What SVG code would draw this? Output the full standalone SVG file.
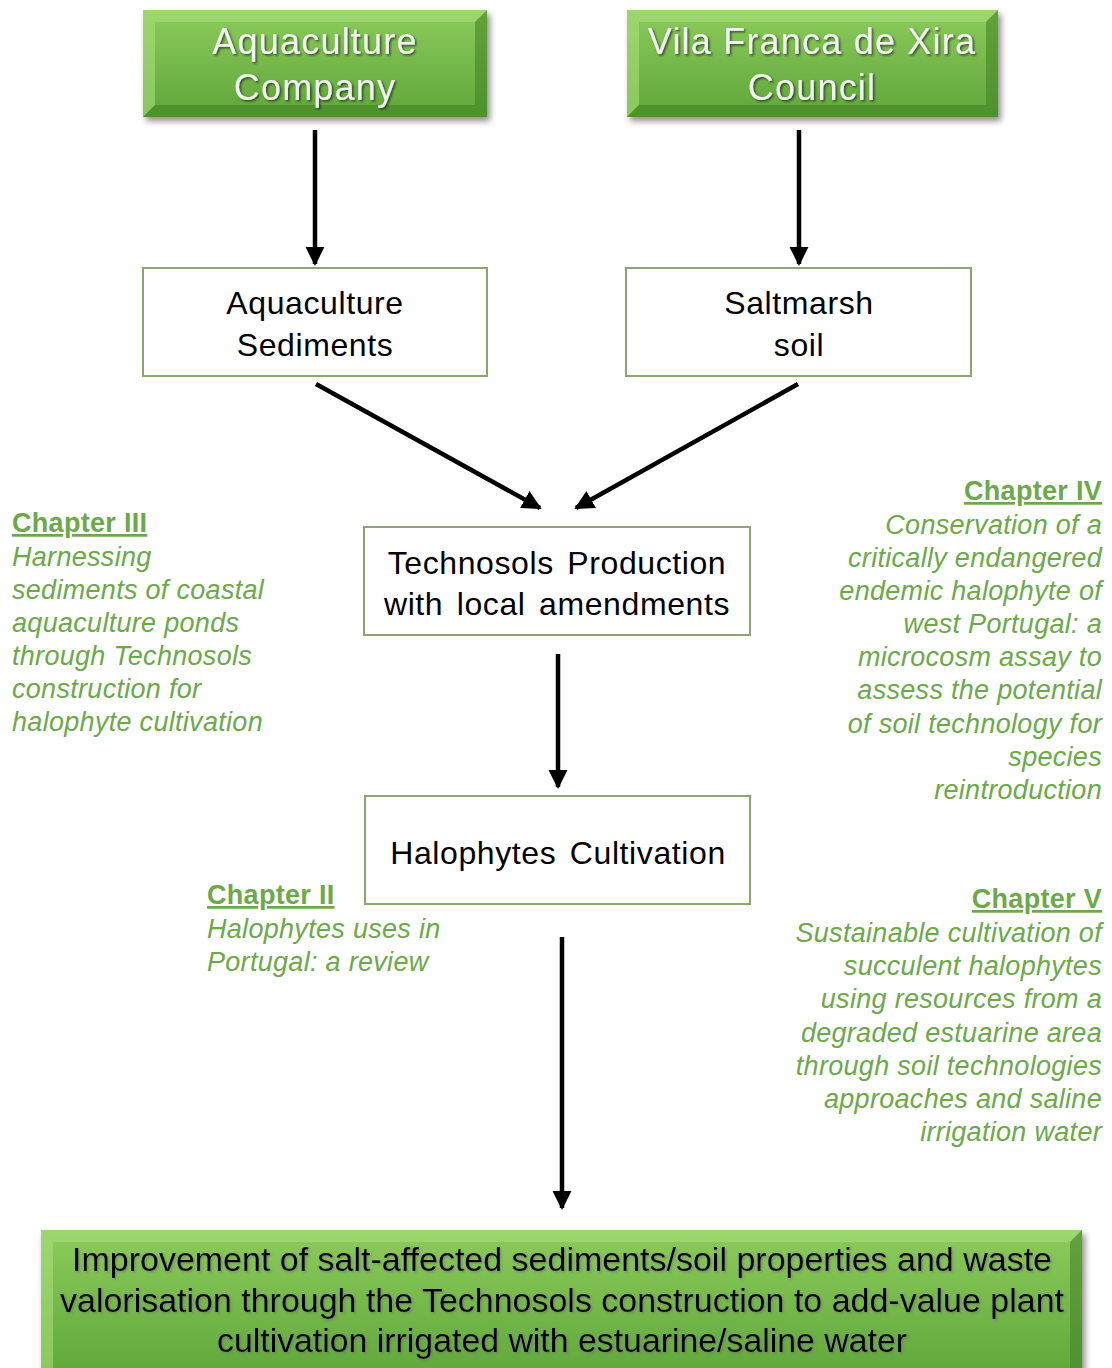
<svg xmlns="http://www.w3.org/2000/svg" width="1112" height="1368" viewBox="0 0 1112 1368">
<defs>
<linearGradient id="gfill" x1="0" y1="0" x2="0" y2="1">
<stop offset="0" stop-color="#8dcb5c"/>
<stop offset="1" stop-color="#5ea63a"/>
</linearGradient>
<filter id="shadow" x="-5%" y="-10%" width="115%" height="130%">
<feDropShadow dx="3" dy="4" stdDeviation="3" flood-color="#000" flood-opacity="0.45"/>
</filter>
<filter id="tshadow" x="-5%" y="-20%" width="110%" height="150%">
<feDropShadow dx="1.5" dy="1.5" stdDeviation="1" flood-color="#000" flood-opacity="0.6"/>
</filter>
<filter id="tshadowL" x="-5%" y="-20%" width="110%" height="150%">
<feDropShadow dx="1.5" dy="1.5" stdDeviation="1" flood-color="#6c6c6c" flood-opacity="0.5"/>
</filter>
<marker id="ah" viewBox="0 0 10 10" refX="9" refY="5" markerWidth="4.3" markerHeight="4.3" markerUnits="strokeWidth" orient="auto">
<path d="M0,0 L10,5 L0,10 z" fill="#000"/>
</marker>
</defs>
<style>
.wbox{fill:#fff;stroke:#8ea472;stroke-width:2}
.wt{font-family:"Liberation Sans",Arial,sans-serif;font-size:32px;letter-spacing:0.6px;fill:#000;text-anchor:middle}
.gt{font-family:"Liberation Sans",Arial,sans-serif;font-size:36px;letter-spacing:1.2px;fill:#f2f2f2;text-anchor:middle}
.bt{font-family:"Liberation Sans Narrow","Liberation Sans",Arial,sans-serif;font-size:34px;fill:#000;text-anchor:middle}
.ch{font-family:"Liberation Sans",Arial,sans-serif;font-size:27px;letter-spacing:0.3px;font-weight:bold;fill:#6ca94a;text-decoration:underline}
.cb{font-family:"Liberation Sans",Arial,sans-serif;font-size:27px;letter-spacing:0.3px;font-style:italic;fill:#6ca94a}
.r{text-anchor:end}
.conn{stroke:#000;stroke-width:4.5;fill:none}
.bl{fill:#a6dd7a;opacity:0.6}
.bd{fill:#3f7f23;opacity:0.55}
</style>

<g id="node-aquaculture-company">
<rect x="143" y="10" width="344" height="107" fill="url(#gfill)" filter="url(#shadow)"/>
<polygon points="143,10 487,10 475,22 155,22" class="bl"/>
<polygon points="143,10 155,22 155,105 143,117" class="bl"/>
<polygon points="487,10 487,117 475,105 475,22" class="bd"/>
<polygon points="143,117 487,117 475,105 155,105" class="bd"/>
<g filter="url(#tshadow)">
<text class="gt" x="315" y="54">Aquaculture</text>
<text class="gt" x="315" y="100">Company</text>
</g>
</g>

<g id="node-vila-franca">
<rect x="627" y="10" width="371" height="107" fill="url(#gfill)" filter="url(#shadow)"/>
<polygon points="627,10 998,10 986,22 639,22" class="bl"/>
<polygon points="627,10 639,22 639,105 627,117" class="bl"/>
<polygon points="998,10 998,117 986,105 986,22" class="bd"/>
<polygon points="627,117 998,117 986,105 639,105" class="bd"/>
<g filter="url(#tshadow)">
<text class="gt" x="812" y="54">Vila Franca de Xira</text>
<text class="gt" x="812" y="100">Council</text>
</g>
</g>

<g id="node-aquaculture-sediments">
<rect class="wbox" x="143" y="268" width="344" height="108"/>
<text class="wt" x="315" y="314">Aquaculture</text>
<text class="wt" x="315" y="356">Sediments</text>
</g>

<g id="node-saltmarsh-soil">
<rect class="wbox" x="626" y="268" width="345" height="108"/>
<text class="wt" x="799" y="314">Saltmarsh</text>
<text class="wt" x="799" y="356">soil</text>
</g>

<g id="node-technosols">
<rect class="wbox" x="364" y="527" width="386" height="108"/>
<text class="wt" x="557" y="574" word-spacing="4">Technosols Production</text>
<text class="wt" x="557" y="615" word-spacing="4">with local amendments</text>
</g>

<g id="node-halophytes">
<rect class="wbox" x="365" y="796" width="385" height="108"/>
<text class="wt" x="558" y="864" word-spacing="4">Halophytes Cultivation</text>
</g>

<g id="node-improvement">
<rect x="41" y="1230" width="1041" height="150" fill="url(#gfill)" filter="url(#shadow)"/>
<polygon points="41,1230 1082,1230 1070,1242 53,1242" class="bl"/>
<polygon points="41,1230 53,1242 53,1380 41,1380" class="bl"/>
<polygon points="1082,1230 1082,1380 1070,1380 1070,1242" class="bd"/>
<g filter="url(#tshadowL)">
<text class="bt" x="562" y="1271" textLength="980" lengthAdjust="spacingAndGlyphs">Improvement  of salt-affected  sediments/soil  properties  and  waste</text>
<text class="bt" x="562" y="1312" textLength="1004" lengthAdjust="spacingAndGlyphs">valorisation  through  the Technosols  construction  to add-value  plant</text>
<text class="bt" x="562" y="1352" textLength="690" lengthAdjust="spacingAndGlyphs">cultivation  irrigated  with  estuarine/saline  water</text>
</g>
</g>

<g id="connectors">
<line class="conn" x1="315" y1="130" x2="315" y2="264" marker-end="url(#ah)"/>
<line class="conn" x1="799" y1="130" x2="799" y2="264" marker-end="url(#ah)"/>
<line class="conn" x1="316" y1="384" x2="540" y2="508" marker-end="url(#ah)"/>
<line class="conn" x1="798" y1="384" x2="576" y2="508" marker-end="url(#ah)"/>
<line class="conn" x1="558" y1="654" x2="558" y2="787" marker-end="url(#ah)"/>
<line class="conn" x1="562" y1="937" x2="562" y2="1208" marker-end="url(#ah)"/>
</g>

<g id="label-chapter-3">
<text class="ch" x="12" y="532">Chapter III</text>
<text class="cb" x="12" y="566">Harnessing</text>
<text class="cb" x="12" y="599">sediments of coastal</text>
<text class="cb" x="12" y="632">aquaculture ponds</text>
<text class="cb" x="12" y="665">through Technosols</text>
<text class="cb" x="12" y="698">construction for</text>
<text class="cb" x="12" y="731">halophyte cultivation</text>
</g>

<g id="label-chapter-4">
<text class="ch r" x="1102" y="500">Chapter IV</text>
<text class="cb r" x="1102" y="534">Conservation of a</text>
<text class="cb r" x="1102" y="567">critically endangered</text>
<text class="cb r" x="1102" y="600">endemic halophyte of</text>
<text class="cb r" x="1102" y="633">west Portugal: a</text>
<text class="cb r" x="1102" y="666">microcosm assay to</text>
<text class="cb r" x="1102" y="699">assess the potential</text>
<text class="cb r" x="1102" y="733">of soil technology for</text>
<text class="cb r" x="1102" y="766">species</text>
<text class="cb r" x="1102" y="799">reintroduction</text>
</g>

<g id="label-chapter-2">
<text class="ch" x="207" y="904">Chapter II</text>
<text class="cb" x="207" y="938">Halophytes uses in</text>
<text class="cb" x="207" y="971">Portugal: a review</text>
</g>

<g id="label-chapter-5">
<text class="ch r" x="1102" y="908">Chapter V</text>
<text class="cb r" x="1102" y="942">Sustainable cultivation of</text>
<text class="cb r" x="1102" y="975">succulent halophytes</text>
<text class="cb r" x="1102" y="1008">using resources from a</text>
<text class="cb r" x="1102" y="1042">degraded estuarine area</text>
<text class="cb r" x="1102" y="1075">through soil technologies</text>
<text class="cb r" x="1102" y="1108">approaches and saline</text>
<text class="cb r" x="1102" y="1141">irrigation water</text>
</g>
</svg>
